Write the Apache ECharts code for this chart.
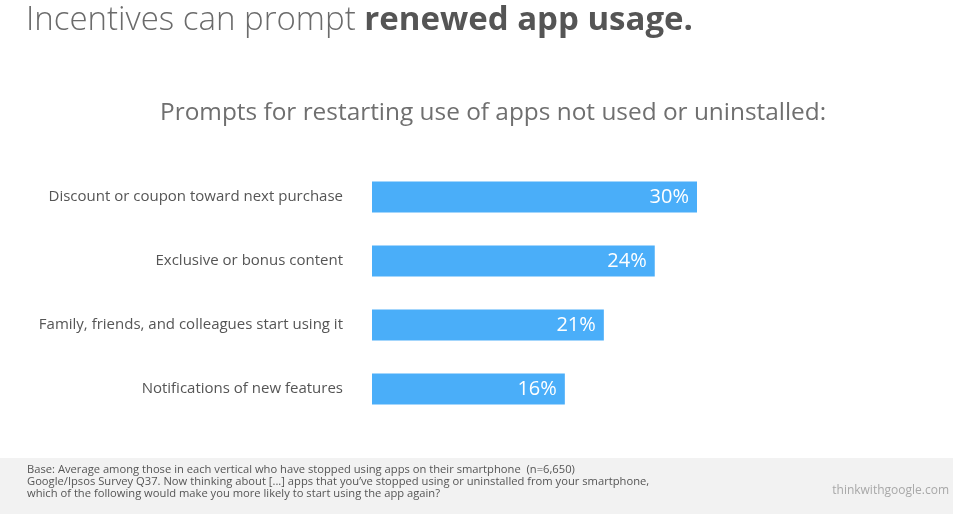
<!DOCTYPE html>
<html>
<head>
<meta charset="utf-8">
<script src="https://cdn.jsdelivr.net/npm/echarts@6/dist/echarts.min.js"></script>
<style>
html,body{margin:0;padding:0;background:#fff;}
#c{width:953px;height:514px;}
</style>
</head>
<body>
<div id="c"></div>
<script>
// Categories (top to bottom as shown)
const categories = [
  'Discount or coupon toward next purchase',
  'Exclusive or bonus content',
  'Family, friends, and colleagues start using it',
  'Notifications of new features'
];
// Bar lengths as drawn in the picture (percent)
const barValues = [30, 26.1, 21.4, 17.8];
// Printed labels on bars
const barLabels = ['30%', '24%', '21%', '16%'];

const footerLines = [
  'Base: Average among those in each vertical who have stopped using apps on their smartphone  (n=6,650)',
  'Google/Ipsos Survey Q37. Now thinking about [...] apps that you\u2019ve stopped using or uninstalled from your smartphone,',
  'which of the following would make you more likely to start using the app again?'
];

const chart = echarts.init(document.getElementById('c'));
const font = '"Open Sans", "Noto Sans", sans-serif';

chart.setOption({
  animation: false,
  backgroundColor: '#ffffff',
  title: [{
    text: '{a|Incentives can prompt }{b|renewed app usage.}',
    left: 21, top: -1,
    textStyle: {
      rich: {
        a: { fontFamily: font, fontSize: 33, color: '#6b6b6b', fontWeight: 300 },
        b: { fontFamily: font, fontSize: 33, color: '#555555', fontWeight: 'bold' }
      }
    }
  }, {
    text: 'Prompts for restarting use of apps not used or uninstalled:',
    left: 155, top: 96,
    textStyle: { fontFamily: font, fontSize: 24.4, color: '#6f6f6f', fontWeight: 'normal' }
  }],
  grid: { left: 372, right: 953 - 697, top: 165, height: 256, containLabel: false },
  xAxis: {
    type: 'value', min: 0, max: 30,
    show: false
  },
  yAxis: {
    type: 'category', data: categories, inverse: true,
    axisLine: { show: false }, axisTick: { show: false },
    axisLabel: { fontFamily: font, fontSize: 15, color: '#555555', margin: 29, padding: [4, 0, 0, 0] }
  },
  series: [{
    type: 'bar',
    data: barValues,
    barWidth: 31,
    itemStyle: { color: '#4aaef9' },
    label: {
      show: true, position: 'insideRight', distance: 8,
      fontFamily: font, fontSize: 20, color: '#ffffff', padding: [2, 0, 0, 0],
      formatter: p => barLabels[p.dataIndex]
    }
  }],
  graphic: [
    { type: 'rect', shape: { x: 0, y: 458, width: 953, height: 56 }, style: { fill: '#f2f2f2' }, z: -1 },
    ...footerLines.map((t, i) => ({
      type: 'text', left: 27, top: 464 + i * 12,
      style: { text: t, font: '11.2px "Open Sans", sans-serif', fill: '#555555' }
    })),
    { type: 'text', right: 4, top: 485,
      style: { text: 'thinkwithgoogle.com', font: '12px "Open Sans", sans-serif', fill: '#a8a8a8' } }
  ]
});
</script>
</body>
</html>
